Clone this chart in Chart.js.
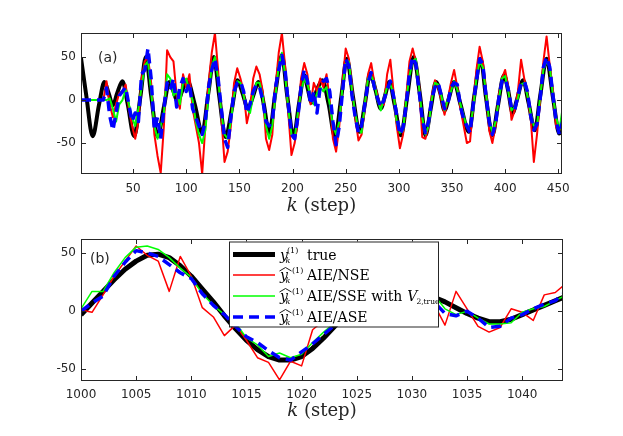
<!DOCTYPE html>
<html>
<head>
<meta charset="utf-8">
<title>AIE estimates</title>
<script src="https://cdn.jsdelivr.net/npm/chart.js@4.4.1/dist/chart.umd.min.js"></script>
<style>
  html, body { margin: 0; padding: 0; background: #fff; }
  #wrap { position: relative; width: 623px; height: 436px; overflow: hidden; }
  #wrap canvas { position: absolute; left: 0; }
  #topChart { top: 0; }
  #botChart { top: 218px; }
</style>
</head>
<body>
<div id="wrap">
  <canvas id="topChart" width="623" height="218"></canvas>
  <canvas id="botChart" width="623" height="218"></canvas>
</div>
<script>
// ---- panel (a): k = 1..454 ----
const xTicksTop = [50, 100, 150, 200, 250, 300, 350, 400, 450];
const yTicks = [-50, 0, 50];

// true output, read at its turning points
const kTrueTop = [1,6,12,18,23,27,31,35,40,45, 51,57,62,67,73,79,84,88,92,96,
  101,108,115,121,126,131,137,143,148,153, 158,163,168,173,178,184,190,195,201,206,
  211,214,218,223,228,234,240,246,251,257, 263,268,273,278,283,287,291,296,302,308,
  314,320,325,330,335,339,343,347,352,358, 366,371,377,382,388,393,399,403,407,411,
  417,422,428,433,439,445,451,454];
const trueTop = [49,5,-42,-5,21,8,-6,8,22,-5, -42,5,50,5,-42,-8,21,10,-2,10,
  23,-5,-38,10,50,5,-43,-10,23,8, -10,5,21,-5,-39,10,52,5,-43,-5,
  29,15,-3,12,23,-5,-43,5,48,3, -37,-5,31,12,-10,5,21,-5,-41,5,
  50,5,-41,-10,21,8,-12,2,21,-5, -37,5,48,3,-41,-8,29,10,-15,0,
  23,-3,-35,5,48,3,-39,-30];

// estimates, read every third step
const kEst = [1,4,7,10,13,16,19,22,25,28, 31,34,37,40,43,46,49,52,55,58,
  61,64,67,70,73,76,79,82,85,88, 91,94,97,100,103,106,109,112,115,118,
  121,124,127,130,133,136,139,142,145,148, 151,154,157,160,163,166,169,172,175,178,
  181,184,187,190,193,196,199,202,205,208, 211,214,217,220,223,226,229,232,235,238,
  241,244,247,250,253,256,259,262,265,268, 271,274,277,280,283,286,289,292,295,298,
  301,304,307,310,313,316,319,322,325,328, 331,334,337,340,343,346,349,352,355,358,
  361,364,367,370,373,376,379,382,385,388, 391,394,397,400,403,406,409,412,415,418,
  421,424,427,430,433,436,439,442,445,448, 451,454];

const nseTop = [0,0,0,0,0,0,0,0,22,-5, -20,-5,8,10,18,-10,-30,-45,-25,25,
  45,50,20,-40,-65,-85,-30,58,50,45, 5,-10,30,15,30,-10,-30,-50,-86,-30,
  20,55,78,35,-20,-72,-60,-30,20,37, 25,10,-27,-10,25,39,30,10,-45,-58,
  -40,15,55,78,40,-15,-64,-50,-25,25, 43,30,-5,20,10,25,15,30,0,-45,
  -60,-30,20,60,48,15,-20,-47,-40,-10, 30,43,20,5,-7,-5,30,47,10,-30,
  -56,-40,5,45,60,45,20,-43,-45,-30, 5,23,15,0,-17,0,20,35,15,-10,
  -30,-50,-48,-5,35,62,45,10,-35,-50, -30,5,25,35,15,-23,-12,10,47,25,
  5,-20,-72,-40,0,45,74,40,10,-32, -35,-20];

const sseTop = [0,0,0,0,0,0,0,0,0,2, -10,-25,-5,0,12,-5,-20,-30,-10,15,
  40,45,10,-30,-45,-30,-15,30,25,5, 10,-5,20,25,10,0,-25,-40,-50,-35,
  5,40,50,25,-15,-40,-45,-25,5,22, 20,5,-10,-15,5,20,20,5,-30,-45,
  -30,5,40,55,30,-10,-40,-45,-15,10, 25,18,5,-5,8,15,10,15,-5,-30,
  -40,-25,15,42,45,10,-15,-35,-38,-5, 25,28,20,0,-12,2,15,18,8,-25,
  -38,-35,0,28,45,48,15,-20,-40,-30, 0,20,18,5,-12,0,10,22,12,-5,
  -18,-32,-30,-10,25,45,38,8,-25,-38, -25,0,25,28,10,-12,-8,2,18,20,
  5,-15,-30,-30,5,35,45,38,5,-20, -35,-10];

const aseTop = [0,0,0,0,0,0,0,0,14,-18, -35,-15,5,10,15,-5,-25,-15,-25,30,
  35,60,25,-35,-20,-45,-10,20,12,25, -8,15,25,10,20,-10,-20,-30,-40,-25,
  15,35,48,25,-10,-45,-55,-20,10,20, 22,10,-15,-5,10,18,15,0,-25,-30,
  -25,15,35,52,35,-5,-40,-45,-20,15, 35,22,-5,10,-15,15,22,25,10,-25,
  -52,-30,10,48,40,5,-20,-38,-30,-5, 20,32,15,2,-8,0,12,22,5,-18,
  -40,-32,-5,32,50,42,12,-22,-38,-25, 2,15,20,5,-10,-5,15,20,18,-8,
  -22,-30,-38,-5,22,48,42,5,-25,-40, -28,2,22,25,12,-10,-12,5,20,22,
  10,-18,-35,-28,2,38,50,38,5,-25, -40,-25];

// ---- panel (b): k = 1000..1044 ----
const xTicksBot = [1000, 1005, 1010, 1015, 1020, 1025, 1030, 1035, 1040];
const kBot = [1000,1001,1002,1003,1004,1005,1006,1007,1008,1009,
  1010,1011,1012,1013,1014,1015,1016,1017,1018,1019,
  1020,1021,1022,1023,1024,1025,1026,1027,1028,1029,
  1030,1031,1032,1033,1034,1035,1036,1037,1038,1039,
  1040,1041,1042,1043,1044];
const trueBot = [-3,7,17,27,36,43,48,49,46,39, 30,19,8,-4,-15,-25,-33,-39,-42,-42,
  -39,-32,-23,-13,-3,6,13,18,20,20, 18,15,12,8,3,-2,-6,-9,-9,-7, -3,1,5,9,13];
const nseBot = [1,-1,14,30,43,56,48,43,17,47, 30,3,-5,-21,-12,-25,-40,-44,-59,-43,
  -47,-16,-8,5,10,8,18,22,15,25, 20,18,6,-12,17,2,-13,-18,-14,2, -1,-8,14,16,24];
const sseBot = [2,17,17,33,46,55,56,53,46,37, 29,15,5,-3,-10,-23,-29,-39,-36,-40,
  -37,-27,-18,-10,-2,5,10,14,16,18, 18,16,14,2,-3,0,-6,-11,-11,-10, -1,2,4,9,14];
const aseBot = [0,7,13,30,42,52,50,47,40,33, 28,15,5,-3,-13,-22,-27,-34,-40,-42,
  -35,-28,-20,-12,-4,3,8,12,15,16, 15,12,8,-2,-4,0,-6,-14,-13,-6, -3,2,6,9,17];

const legendText = ['true', 'AIE/NSE', 'AIE/SSE with', 'AIE/ASE'];

const axisColor = '#262626';
const tickFont = { family: 'DejaVu Sans', size: 12 };

function pts(ks, vs) {
    return ks.map((k, i) => ({ x: k, y: vs[i] }));
}

// y with hat, superscript (1) and subscript k
function drawY(ctx, x, base, hat) {
    ctx.font = 'italic 14px "DejaVu Serif"';
    ctx.fillText('y', x, base);
    if (hat) {
        ctx.beginPath();
        ctx.lineWidth = 0.9;
        ctx.moveTo(x - 0.5, base - 9);
        ctx.lineTo(x + 5.5, base - 12.5);
        ctx.lineTo(x + 11.5, base - 9);
        ctx.stroke();
    }
    ctx.font = '8px "DejaVu Serif"';
    ctx.fillText('(1)', x + (hat ? 12 : 7), base - 7);
    ctx.font = 'italic 8px "DejaVu Serif"';
    ctx.fillText('k', x + 5.5, base + 3);
}

const matlabAxes = {
    id: 'matlabAxes',
    afterDraw(chart, args, opts) {
        const { ctx, chartArea: a, scales: { x, y } } = chart;
        ctx.save();
        ctx.strokeStyle = axisColor;
        ctx.lineWidth = 1;
        ctx.setLineDash([]);
        ctx.strokeRect(a.left + 0.5, a.top + 0.5, a.right - a.left - 1, a.bottom - a.top - 1);
        ctx.beginPath();
        opts.xTicks.forEach(v => {
            const px = Math.round(x.getPixelForValue(v)) + 0.5;
            ctx.moveTo(px, a.bottom); ctx.lineTo(px, a.bottom - 5);
            ctx.moveTo(px, a.top); ctx.lineTo(px, a.top + 5);
        });
        opts.yTicks.forEach(v => {
            const py = Math.round(y.getPixelForValue(v)) + 0.5;
            ctx.moveTo(a.left, py); ctx.lineTo(a.left + 5, py);
            ctx.moveTo(a.right, py); ctx.lineTo(a.right - 5, py);
        });
        ctx.stroke();

        ctx.fillStyle = axisColor;
        ctx.textBaseline = 'middle';
        ctx.textAlign = 'left';
        ctx.font = '14px "DejaVu Sans"';
        ctx.fillText(opts.panel, a.left + opts.panelDx, a.top + opts.panelDy);

        // x label: italic k, upright (step)
        ctx.font = 'italic 18px "DejaVu Serif"';
        const wk = ctx.measureText('k').width;
        ctx.font = '18px "DejaVu Serif"';
        const ws = ctx.measureText(' (step)').width;
        const tx = (a.left + a.right) / 2 - (wk + ws) / 2;
        const ty = a.bottom + opts.titleDy;
        ctx.font = 'italic 18px "DejaVu Serif"';
        ctx.fillText('k', tx, ty);
        ctx.font = '18px "DejaVu Serif"';
        ctx.fillText(' (step)', tx + wk, ty);

        if (opts.legend) {
            const L = opts.legend;
            ctx.fillStyle = '#fff';
            ctx.fillRect(L.x, L.y, L.w, L.h);
            ctx.strokeStyle = axisColor;
            ctx.lineWidth = 1;
            ctx.strokeRect(L.x + 0.5, L.y + 0.5, L.w, L.h);
            ctx.textBaseline = 'alphabetic';
            chart.data.datasets.forEach((ds, i) => {
                const yc = L.y + L.rows[i];
                ctx.strokeStyle = ds.borderColor;
                ctx.lineWidth = ds.borderWidth;
                ctx.setLineDash(ds.borderDash || []);
                ctx.beginPath();
                ctx.moveTo(L.x + 4, yc);
                ctx.lineTo(L.x + 46, yc);
                ctx.stroke();
                ctx.setLineDash([]);
                ctx.fillStyle = '#000';
                ctx.strokeStyle = '#000';
                const base = yc + 5;
                drawY(ctx, L.x + 51, base, i > 0);
                ctx.font = '14px "DejaVu Serif"';
                ctx.fillText(legendText[i], L.x + 78, base);
                if (i === 2) {
                    const w = ctx.measureText(legendText[i]).width;
                    ctx.font = 'italic 14px "DejaVu Serif"';
                    ctx.fillText('V', L.x + 78 + w + 5, base);
                    const wv = ctx.measureText('V').width;
                    ctx.font = '7.5px "DejaVu Serif"';
                    ctx.fillText('2,true', L.x + 78 + w + 5 + wv - 1, base + 3);
                }
            });
        }
        ctx.restore();
    }
};

function makeOptions(cfg) {
    return {
        responsive: false,
        animation: false,
        events: [],
        layout: { padding: { left: 0, right: cfg.padRight, top: cfg.padTop, bottom: 0 } },
        elements: { point: { radius: 0 }, line: { borderJoinStyle: 'round', tension: 0 } },
        scales: {
            x: {
                type: 'linear', min: cfg.xMin, max: cfg.xMax,
                grid: { display: false, drawTicks: false },
                border: { display: false },
                afterBuildTicks: s => { s.ticks = cfg.xTicks.map(v => ({ value: v })); },
                afterFit: s => { s.height = cfg.xHeight; },
                ticks: { color: axisColor, font: tickFont, padding: cfg.xPad, maxRotation: 0, callback: v => String(v) }
            },
            y: {
                type: 'linear', min: cfg.yMin, max: cfg.yMax,
                grid: { display: false, drawTicks: false },
                border: { display: false },
                afterBuildTicks: s => { s.ticks = yTicks.map(v => ({ value: v })); },
                afterFit: s => { s.width = 81; },
                ticks: { color: axisColor, font: tickFont, padding: 5, callback: v => String(v) }
            }
        },
        plugins: {
            legend: { display: false },
            tooltip: { enabled: false },
            matlabAxes: {
                xTicks: cfg.xTicks, yTicks: yTicks,
                panel: cfg.panel, panelDx: cfg.panelDx, panelDy: cfg.panelDy,
                titleDy: cfg.titleDy, legend: cfg.legend
            }
        }
    };
}

new Chart(document.getElementById('topChart'), {
    type: 'line',
    data: {
        datasets: [
            { label: 'true', data: pts(kTrueTop, trueTop), borderColor: '#000000', borderWidth: 4, cubicInterpolationMode: 'monotone', order: 4 },
            { label: 'AIE/NSE', data: pts(kEst, nseTop), borderColor: '#ff0000', borderWidth: 2, order: 3 },
            { label: 'AIE/SSE', data: pts(kEst, sseTop), borderColor: '#00ff00', borderWidth: 2, order: 2 },
            { label: 'AIE/ASE', data: pts(kEst, aseTop), borderColor: '#0000ff', borderWidth: 3.5, borderDash: [10, 6], order: 1 }
        ]
    },
    options: makeOptions({
        padRight: 61, padTop: 33, xHeight: 44, xPad: 8,
        xMin: 1, xMax: 453.5, yMin: -86, yMax: 78, xTicks: xTicksTop,
        panel: '(a)', panelDx: 17, panelDy: 25, titleDy: 32
    }),
    plugins: [matlabAxes]
});

new Chart(document.getElementById('botChart'), {
    type: 'line',
    data: {
        datasets: [
            { label: 'true', data: pts(kBot, trueBot), borderColor: '#000000', borderWidth: 5, order: 4 },
            { label: 'AIE/NSE', data: pts(kBot, nseBot), borderColor: '#ff0000', borderWidth: 1.5, order: 3 },
            { label: 'AIE/SSE', data: pts(kBot, sseBot), borderColor: '#00ff00', borderWidth: 1.5, order: 2 },
            { label: 'AIE/ASE', data: pts(kBot, aseBot), borderColor: '#0000ff', borderWidth: 3.5, borderDash: [10, 6], order: 1 }
        ]
    },
    options: makeOptions({
        padRight: 60, padTop: 21, xHeight: 55, xPad: 7,
        xMin: 1000, xMax: 1043.7, yMin: -60, yMax: 62, xTicks: xTicksBot,
        panel: '(b)', panelDx: 9, panelDy: 20, titleDy: 30,
        legend: { x: 229, y: 23.5, w: 209, h: 85, rows: [36.5 - 23.5, 57 - 23.5, 78 - 23.5, 99 - 23.5] }
    }),
    plugins: [matlabAxes]
});
</script>
</body>
</html>
